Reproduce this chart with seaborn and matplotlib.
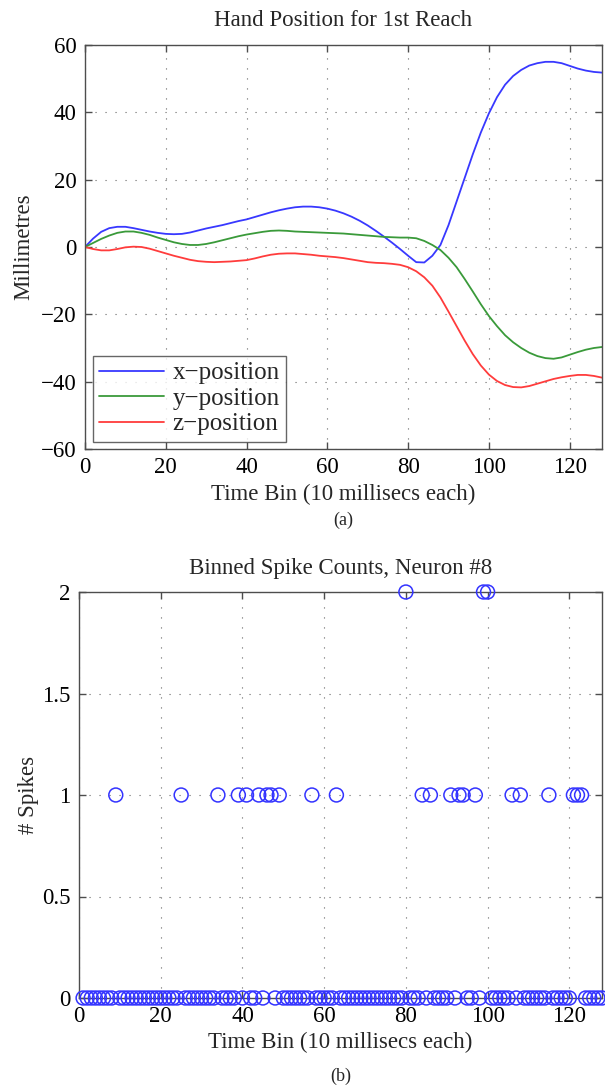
import numpy as np
import pandas as pd
import matplotlib
matplotlib.use("Agg")
import matplotlib.pyplot as plt
import seaborn as sns

# ---- hand position for the first reach (mm), sampled every 2 time bins ----
time_bins = list(range(0, 129, 2))
x_position = [0, 2.5, 4.5, 5.6, 6.0, 6.0, 5.6, 5.1, 4.6, 4.2,
              3.9, 3.8, 3.9, 4.3, 4.9, 5.5, 6.0, 6.5, 7.1, 7.7,
              8.2, 8.9, 9.6, 10.3, 10.9, 11.4, 11.8, 12.0, 12.0, 11.8,
              11.4, 10.8, 10.0, 9.0, 7.8, 6.4, 4.8, 3.1, 1.3, -0.6,
              -2.6, -4.5, -4.6, -2.6, 0.6, 6.5, 13.5, 20.5, 27.5, 34.0,
              39.7, 44.5, 48.2, 50.8, 52.6, 53.9, 54.6, 55.0, 55.0, 54.6,
              53.8, 53.0, 52.4, 52.0, 51.8]
y_position = [0, 1.2, 2.4, 3.4, 4.2, 4.6, 4.6, 4.2, 3.6, 2.8,
              2.1, 1.4, 0.9, 0.6, 0.6, 0.9, 1.4, 2.0, 2.6, 3.2,
              3.7, 4.1, 4.5, 4.8, 4.9, 4.8, 4.6, 4.5, 4.4, 4.3,
              4.2, 4.1, 4.0, 3.8, 3.6, 3.4, 3.2, 3.0, 2.9, 2.8,
              2.8, 2.6, 1.8, 0.6, -0.9, -3.2, -6.0, -9.5, -13.2, -17.0,
              -20.5, -23.5, -26.2, -28.3, -30.0, -31.4, -32.4, -33.0, -33.2, -32.8,
              -32.0, -31.2, -30.5, -30.0, -29.7]
z_position = [0, -0.6, -1.0, -1.0, -0.6, -0.1, 0.1, 0.0, -0.5, -1.2,
              -1.9, -2.6, -3.2, -3.8, -4.2, -4.4, -4.5, -4.4, -4.3, -4.1,
              -3.9, -3.4, -2.8, -2.3, -2.0, -1.9, -1.9, -2.1, -2.3, -2.6,
              -2.8, -3.0, -3.3, -3.7, -4.1, -4.5, -4.7, -4.8, -5.0, -5.3,
              -6.0, -7.2, -9.0, -11.5, -15.0, -19.2, -23.5, -27.8, -31.8, -35.2,
              -37.9, -39.8, -41.0, -41.6, -41.7, -41.3, -40.6, -39.9, -39.2, -38.7,
              -38.3, -38.0, -38.0, -38.3, -38.8]
series_names = ["x\u2212position", "y\u2212position", "z\u2212position"]
series_colors = ["#3838ff", "#3a9a3a", "#ff3c3c"]

# ---- binned spike counts for neuron #8, bins 1..128 ----
spike_bins = list(range(1, 129))
spike_counts = [0, 0, 0, 0, 0, 0, 0, 0, 1, 0, 0, 0, 0, 0, 0, 0,
                0, 0, 0, 0, 0, 0, 0, 0, 1, 0, 0, 0, 0, 0, 0, 0,
                0, 1, 0, 0, 0, 0, 1, 0, 1, 0, 0, 1, 0, 1, 1, 0,
                1, 0, 0, 0, 0, 0, 0, 0, 1, 0, 0, 0, 0, 0, 1, 0,
                0, 0, 0, 0, 0, 0, 0, 0, 0, 0, 0, 0, 0, 0, 0, 2,
                0, 0, 0, 1, 0, 1, 0, 0, 0, 0, 1, 0, 1, 1, 0, 0,
                1, 0, 2, 2, 0, 0, 0, 0, 0, 1, 0, 1, 0, 0, 0, 0,
                0, 0, 1, 0, 0, 0, 0, 0, 1, 1, 1, 0, 0, 0, 0, 0]

x_ticks = [0, 20, 40, 60, 80, 100, 120]

sns.set_theme(style="white")
plt.rcParams["font.family"] = ["Liberation Serif", "DejaVu Serif"]
plt.rcParams["axes.unicode_minus"] = True

FS = 16.5
W, H = 605, 1091
fig = plt.figure(figsize=(W / 100, H / 100), dpi=100)
fig.patch.set_facecolor("white")


def style_axes(ax):
    for sp in ax.spines.values():
        sp.set_color("0.3")
        sp.set_linewidth(1.0)
    ax.tick_params(direction="in", length=5, width=1, color="0.3",
                   top=True, right=True, labelsize=FS, labelcolor="black",
                   bottom=True, left=True, pad=6)
    ax.grid(True, color="0.4", linewidth=0.8, linestyle=(0, (1, 8)))
    ax.set_axisbelow(True)


# ---- panel (a) ----
ax1 = fig.add_axes([85 / W, 1 - 449 / H, 517 / W, 404 / H])
df_pos = pd.DataFrame({
    "Time Bin": time_bins * 3,
    "Millimetres": x_position + y_position + z_position,
    "series": sum([[n] * len(time_bins) for n in series_names], []),
})
sns.lineplot(data=df_pos, x="Time Bin", y="Millimetres", hue="series",
             palette=dict(zip(series_names, series_colors)), ax=ax1,
             linewidth=1.3, legend=True)
ax1.set_xlim(0, 128)
ax1.set_ylim(-60, 60)
ax1.set_xticks(x_ticks)
ax1.set_yticks([-60, -40, -20, 0, 20, 40, 60])
style_axes(ax1)
ax1.set_title("Hand Position for 1st Reach", fontsize=FS, pad=13.5)
ax1.set_xlabel("Time Bin (10 millisecs each)", fontsize=FS, labelpad=4)
ax1.set_ylabel("Millimetres", fontsize=FS, labelpad=5)
leg = ax1.legend(loc="lower left", fontsize=18, frameon=True, fancybox=False,
                 edgecolor="0.25", borderaxespad=0.3, handlelength=2.6,
                 handletextpad=0.35, borderpad=0.25, labelspacing=0.12)
leg.get_frame().set_linewidth(1.0)
for line in leg.get_lines():
    line.set_linewidth(1.3)

fig.text(343 / W, 1 - 520 / H, "(a)", ha="center", va="center", fontsize=13)

# ---- panel (b) ----
ax2 = fig.add_axes([79 / W, 1 - 998 / H, 523 / W, 406 / H])
df_spk = pd.DataFrame({"Time Bin": spike_bins, "# Spikes": spike_counts})
sns.scatterplot(data=df_spk, x="Time Bin", y="# Spikes", ax=ax2,
                marker="o", s=100, facecolors="none", edgecolor="#3333ff",
                linewidth=1.1, clip_on=False, zorder=3, legend=False)
ax2.set_xlim(0, 128)
ax2.set_ylim(0, 2)
ax2.set_xticks(x_ticks)
ax2.set_yticks([0, 0.5, 1, 1.5, 2])
ax2.set_yticklabels(["0", "0.5", "1", "1.5", "2"])
style_axes(ax2)
ax2.set_title("Binned Spike Counts, Neuron #8", fontsize=FS, pad=13)
ax2.set_xlabel("Time Bin (10 millisecs each)", fontsize=FS, labelpad=3)
ax2.set_ylabel("# Spikes", fontsize=FS, labelpad=2)

fig.text(341 / W, 1 - 1076 / H, "(b)", ha="center", va="center", fontsize=13)

fig.savefig("out.png", dpi=100, facecolor="white")
